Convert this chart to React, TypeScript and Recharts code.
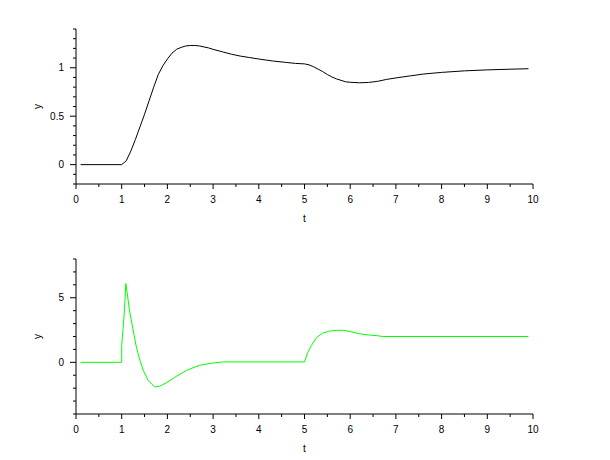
import { LineChart, Line, XAxis, YAxis } from "recharts";

// top plot: output y(t)
const tTop = [0.1, 1.0, 1.1, 1.2, 1.3, 1.4, 1.5, 1.6, 1.7, 1.8, 1.9, 2.0, 2.1, 2.2, 2.3, 2.4, 2.5, 2.6, 2.7, 2.8, 2.9, 3.0, 3.2, 3.4, 3.6, 3.8, 4.0, 4.3, 4.6, 4.8, 5.0, 5.1, 5.2, 5.3, 5.4, 5.5, 5.6, 5.7, 5.8, 5.9, 6.0, 6.2, 6.4, 6.6, 6.8, 7.0, 7.3, 7.6, 8.0, 8.5, 9.0, 9.5, 9.9];
const yTop = [0, 0, 0.04, 0.14, 0.26, 0.39, 0.52, 0.66, 0.8, 0.93, 1.02, 1.09, 1.15, 1.19, 1.21, 1.225, 1.23, 1.23, 1.225, 1.215, 1.205, 1.19, 1.165, 1.14, 1.12, 1.105, 1.09, 1.07, 1.055, 1.045, 1.04, 1.03, 1.01, 0.985, 0.96, 0.93, 0.905, 0.885, 0.87, 0.855, 0.85, 0.845, 0.848, 0.86, 0.88, 0.895, 0.915, 0.935, 0.952, 0.968, 0.978, 0.985, 0.99];

// bottom plot: control signal
const tBottom = [0.1, 1.0, 1.0, 1.03, 1.06, 1.09, 1.12, 1.17, 1.25, 1.32, 1.4, 1.47, 1.58, 1.72, 1.83, 1.97, 2.2, 2.42, 2.7, 3.0, 3.2, 5.0, 5.07, 5.15, 5.26, 5.4, 5.55, 5.7, 5.85, 6.0, 6.2, 6.4, 6.6, 6.7, 9.9];
const yBottom = [0, 0, 1.3, 2.6, 4.0, 6.1, 5.4, 4.0, 2.5, 1.2, 0.15, -0.6, -1.4, -1.9, -1.85, -1.6, -1.08, -0.62, -0.23, -0.05, 0.03, 0.03, 0.75, 1.3, 1.9, 2.27, 2.42, 2.48, 2.48, 2.38, 2.22, 2.12, 2.06, 2.0, 2.0];

const xTicks = [0, 0.5, 1, 1.5, 2, 2.5, 3, 3.5, 4, 4.5, 5, 5.5, 6, 6.5, 7, 7.5, 8, 8.5, 9, 9.5, 10];
const xLabels = [0, 1, 2, 3, 4, 5, 6, 7, 8, 9, 10];
const topYTicks = [-0.2, -0.1, 0, 0.1, 0.2, 0.3, 0.4, 0.5, 0.6, 0.7, 0.8, 0.9, 1, 1.1, 1.2, 1.3, 1.4];
const topYLabels = [0, 0.5, 1];
const bottomYTicks = [-4, -3, -2, -1, 0, 1, 2, 3, 4, 5, 6, 7, 8];
const bottomYLabels = [0, 5];

const FONT = "'Liberation Sans', Arial, sans-serif";

const topData = tTop.map((t, i) => ({ t, y: yTop[i] }));
const bottomData = tBottom.map((t, i) => ({ t, y: yBottom[i] }));

const XTick = (props: any) => {
  const { x, y, payload } = props;
  const major = xLabels.includes(payload.value);
  return (
    <g>
      <line x1={x} y1={y} x2={x} y2={y + (major ? 5 : 3)} stroke="#000" />
      {major && (
        <text x={x} y={y + 19} textAnchor="middle" fontSize={10} fontFamily={FONT} fill="#000">
          {payload.value}
        </text>
      )}
    </g>
  );
};

const makeYTick = (labels: number[]) => (props: any) => {
  const { x, y, payload } = props;
  const major = labels.includes(payload.value);
  return (
    <g>
      <line x1={x - (major ? 6 : 3)} y1={y} x2={x} y2={y} stroke="#000" />
      {major && (
        <text x={x - 12} y={y + 3.5} textAnchor="end" fontSize={10} fontFamily={FONT} fill="#000">
          {payload.value}
        </text>
      )}
    </g>
  );
};

const YName = ({ viewBox }: any) => {
  const cx = viewBox.x + 41;
  const cy = viewBox.y + viewBox.height / 2;
  return (
    <text x={cx} y={cy} transform={`rotate(-90 ${cx} ${cy})`} textAnchor="middle" fontSize={10} fontFamily={FONT} fill="#000">
      y
    </text>
  );
};

const TName = ({ viewBox }: any) => (
  <text x={viewBox.x + viewBox.width / 2} y={viewBox.y + 38} textAnchor="middle" fontSize={10} fontFamily={FONT} fill="#000">
    t
  </text>
);

function Panel({ data, color, domain, yTicks, yLabels }: any) {
  return (
    <LineChart width={610} height={230} data={data} margin={{ top: 29, right: 77, bottom: 16, left: 0 }}>
      <XAxis
        dataKey="t"
        type="number"
        domain={[0, 10]}
        ticks={xTicks}
        interval={0}
        height={30}
        tickSize={0}
        tickMargin={0}
        tickLine={false}
        tick={XTick}
        axisLine={{ stroke: "#000" }}
        allowDataOverflow
        label={{ content: TName }}
      />
      <YAxis
        type="number"
        domain={domain}
        ticks={yTicks}
        interval={0}
        width={76}
        tickSize={0}
        tickMargin={0}
        tickLine={false}
        tick={makeYTick(yLabels)}
        axisLine={{ stroke: "#000" }}
        allowDataOverflow
        label={{ content: YName }}
      />
      <Line type="linear" dataKey="y" stroke={color} strokeWidth={1} dot={false} activeDot={false} isAnimationActive={false} />
    </LineChart>
  );
}

export default function App() {
  return (
    <div style={{ position: "absolute", top: 0, left: 0, width: 610, height: 460, background: "#fff" }}>
      <Panel data={topData} color="#000000" domain={[-0.2, 1.4]} yTicks={topYTicks} yLabels={topYLabels} />
      <Panel data={bottomData} color="#00ff00" domain={[-4, 8]} yTicks={bottomYTicks} yLabels={bottomYLabels} />
    </div>
  );
}
